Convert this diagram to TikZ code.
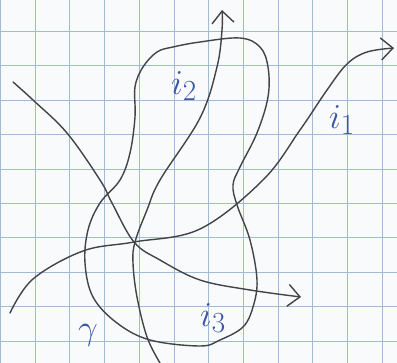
\documentclass[tikz,border=0pt]{standalone}
\usepackage{amsmath,amssymb}
\usetikzlibrary{arrows.meta}

\definecolor{paper}{HTML}{F9FAFC}
\definecolor{gridblue}{HTML}{A3BAD4}
\definecolor{leadgray}{HTML}{444444}
\definecolor{ink}{HTML}{3A55A6}

\begin{document}
\begin{tikzpicture}[
  x=0.025cm, y=-0.025cm,
  gridline/.style={gridblue, line width=0.6pt},
  pencil/.style={leadgray, line width=1pt, line cap=round, line join=round},
  barb/.style={-{Straight Barb[length=3mm, width=5.5mm, line width=1pt]}},
  lbl/.style={text=ink, inner sep=0pt, font=\fontsize{28}{32}\selectfont}
]

% paper and squares
\fill[paper] (0,0) rectangle (397,363);
\useasboundingbox (0,0) rectangle (397,363);
\foreach \k in {0,...,11}
  \draw[gridline] ({0.5+34.7*\k},0) -- ({0.5+34.7*\k},363);
\foreach \k in {1,...,10}
  \draw[gridline] (0,{-3+34.4*\k}) -- (397,{-3+34.4*\k});

% the closed curve gamma
\draw[pencil] plot[smooth cycle, tension=0.6] coordinates {
  (173,47) (200,42) (240,38) (260,47) (268,67) (268,97) (257,133)
  (240,167) (233,185) (237,205) (250,240) (257,280) (253,307) (243,327)
  (220,340) (200,346) (150,340) (117,323) (93,297) (85,263) (88,230)
  (100,203) (120,180) (130,153) (135,117) (135,87) (143,67) (157,52)};

% the three paths
\draw[pencil, barb] plot[smooth, tension=0.6] coordinates {
  (10,313) (33,279) (83,251) (134,242) (200,229) (263,180) (300,130)
  (327,90) (347,64) (367,52) (394,48)};
\draw[pencil, barb] plot[smooth, tension=0.6] coordinates {
  (160,363) (147,337) (137,297) (133,263) (135,242) (147,210) (160,180)
  (200,118) (217,67) (222,30) (222,10)};
\draw[pencil, barb] plot[smooth, tension=0.6] coordinates {
  (13,82) (33,100) (67,133) (100,180) (112,203) (134,242) (160,260)
  (200,280) (250,290) (301,297)};

% labels
\node[lbl] (i2) at (184,86) {$i_2$};
\node[lbl] (i1) at (342,120) {$i_1$};
\node[lbl] (i3) at (213,318) {$i_3$};
\node[lbl] (gam) at (88,335) {$\gamma$};

\end{tikzpicture}
\end{document}
